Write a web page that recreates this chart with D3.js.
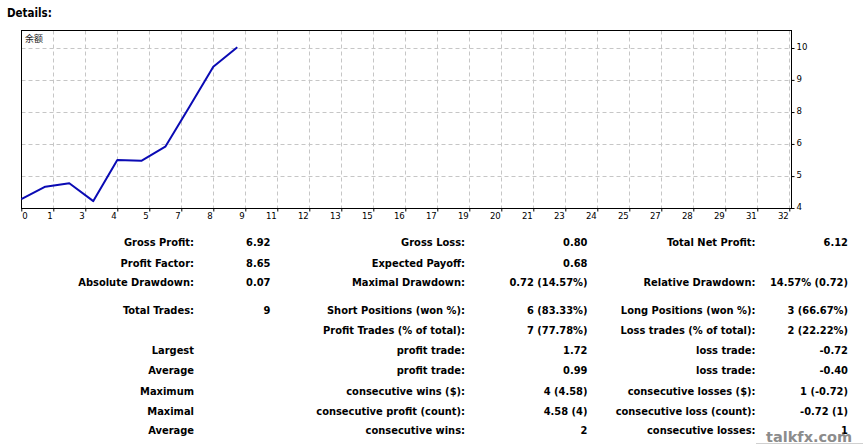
<!DOCTYPE html>
<html>
<head>
<meta charset="utf-8">
<script src="https://cdn.jsdelivr.net/npm/d3@7"></script>
<style>
  html, body { margin: 0; padding: 0; background: #fff; }
  svg { display: block; }
</style>
</head>
<body>
<svg id="chart" width="863" height="445"></svg>
<script>
// ---- data ----
const tradeIndex = [0, 1, 2, 3, 4, 5, 6, 7, 8, 9];
const balance = [4.30, 4.80, 4.94, 4.22, 5.88, 5.85, 6.42, 8.02, 9.65, 10.44];
const xTickLabels = ['0','1','3','4','5','7','8','9','11','12','13','15','16','17','19','20','21','23','24','25','27','28','29','31','32'];
const yTickValues = [3.94, 5.23, 6.53, 7.82, 9.12, 10.41];
const yTickLabels = ['4', '5', '6', '8', '9', '10'];
const seriesName = '余额';

const statRows = [
  ['Gross Profit:', '6.92', 'Gross Loss:', '0.80', 'Total Net Profit:', '6.12'],
  ['Profit Factor:', '8.65', 'Expected Payoff:', '0.68', '', ''],
  ['Absolute Drawdown:', '0.07', 'Maximal Drawdown:', '0.72 (14.57%)', 'Relative Drawdown:', '14.57% (0.72)'],
  ['Total Trades:', '9', 'Short Positions (won %):', '6 (83.33%)', 'Long Positions (won %):', '3 (66.67%)'],
  ['', '', 'Profit Trades (% of total):', '7 (77.78%)', 'Loss trades (% of total):', '2 (22.22%)'],
  ['Largest', '', 'profit trade:', '1.72', 'loss trade:', '-0.72'],
  ['Average', '', 'profit trade:', '0.99', 'loss trade:', '-0.40'],
  ['Maximum', '', 'consecutive wins ($):', '4 (4.58)', 'consecutive losses ($):', '1 (-0.72)'],
  ['Maximal', '', 'consecutive profit (count):', '4.58 (4)', 'consecutive loss (count):', '-0.72 (1)'],
  ['Average', '', 'consecutive wins:', '2', 'consecutive losses:', '1']
];

// ---- layout ----
const svg = d3.select('#chart');
const plot = { left: 21.5, top: 30.5, right: 791.5, bottom: 208.5 };
const x = d3.scaleLinear().domain([0, 32]).range([21.3, 789.3]);
const y = d3.scaleLinear().domain([3.94, 10.41]).range([208, 48]);
const xTickValues = xTickLabels.map((d, i) => i * 32 / 24);
const FONT = "'DejaVu Sans Condensed', 'DejaVu Sans', sans-serif";

svg.append('text')
  .attr('x', 7).attr('y', 17)
  .attr('font-family', FONT).attr('font-stretch', 'condensed')
  .attr('font-weight', 'bold').attr('font-size', 11.5)
  .attr('fill', '#000')
  .text('Details:');

// grid
const grid = svg.append('g').attr('stroke', '#c6c6c6').attr('stroke-dasharray', '4,3').attr('stroke-width', 1);
grid.selectAll('line.v').data(xTickValues.slice(1)).join('line')
  .attr('x1', d => Math.round(x(d)) + 0.5).attr('x2', d => Math.round(x(d)) + 0.5)
  .attr('y1', plot.top).attr('y2', plot.bottom);
grid.selectAll('line.h').data(yTickValues.slice(1)).join('line')
  .attr('y1', d => Math.round(y(d)) + 0.5).attr('y2', d => Math.round(y(d)) + 0.5)
  .attr('x1', plot.left).attr('x2', plot.right);

// frame
svg.append('rect')
  .attr('x', plot.left).attr('y', plot.top)
  .attr('width', plot.right - plot.left).attr('height', plot.bottom - plot.top)
  .attr('fill', 'none').attr('stroke', '#000').attr('stroke-width', 1);

// x axis
const xAxis = svg.append('g')
  .attr('transform', `translate(0,${plot.bottom})`)
  .call(d3.axisBottom(x).tickValues(xTickValues).tickSize(3).tickSizeOuter(0)
    .tickFormat((d, i) => xTickLabels[i]));
xAxis.select('.domain').remove();
xAxis.selectAll('.tick line').attr('stroke', '#000');
xAxis.selectAll('.tick text')
  .attr('font-family', FONT).attr('font-size', 9.5).attr('fill', '#000')
  .attr('y', 4).attr('dy', '0.71em')
  .attr('text-anchor', (d, i) => i === 0 ? 'start' : 'end')
  .attr('x', (d, i) => i === 0 ? 0.5 : -1);

// y axis (right)
const yAxis = svg.append('g')
  .attr('transform', `translate(${plot.right},0)`)
  .call(d3.axisRight(y).tickValues(yTickValues).tickSize(3).tickSizeOuter(0)
    .tickFormat((d, i) => yTickLabels[i]));
yAxis.select('.domain').remove();
yAxis.selectAll('.tick line').attr('stroke', '#000');
yAxis.selectAll('.tick text')
  .attr('font-family', FONT).attr('font-size', 9.5).attr('fill', '#000')
  .attr('x', 5).attr('dy', '0.15em');

// series label
svg.append('text')
  .attr('x', 25).attr('y', 42)
  .attr('font-family', "'Noto Sans CJK SC', sans-serif").attr('font-size', 9)
  .attr('fill', '#222')
  .text(seriesName);

// balance line
const line = d3.line().x((d, i) => x(tradeIndex[i])).y(d => y(d));
svg.append('path')
  .datum(balance)
  .attr('d', line)
  .attr('fill', 'none')
  .attr('stroke', '#0a0ab4')
  .attr('stroke-width', 2)
  .attr('stroke-linejoin', 'round');

// stats table
const rowY = [242, 262.5, 282.3, 310, 330, 350, 370.3, 390.5, 410.5, 429.5];
const colRight = [194, 270.5, 465, 587.5, 755.5, 848];
const table = svg.append('g')
  .attr('font-family', FONT).attr('font-stretch', 'condensed')
  .attr('font-weight', 'bold').attr('font-size', 11)
  .attr('fill', '#000').attr('text-anchor', 'end');
statRows.forEach((row, r) => {
  table.selectAll(null).data(row).join('text')
    .attr('x', (d, c) => colRight[c])
    .attr('y', rowY[r] + 4)
    .text(d => d);
});

// watermark
svg.append('line')
  .attr('x1', 756).attr('x2', 863).attr('y1', 443.5).attr('y2', 443.5)
  .attr('stroke', '#d0d0d0').attr('stroke-width', 1);
svg.append('text')
  .attr('x', 766).attr('y', 442)
  .attr('font-family', "'DejaVu Sans', sans-serif")
  .attr('font-weight', 'bold').attr('font-size', 14.5)
  .attr('fill', '#8c8c8c').attr('stroke', '#fff').attr('stroke-width', 0.6)
  .attr('paint-order', 'stroke')
  .text('talkfx.com');
</script>
</body>
</html>
